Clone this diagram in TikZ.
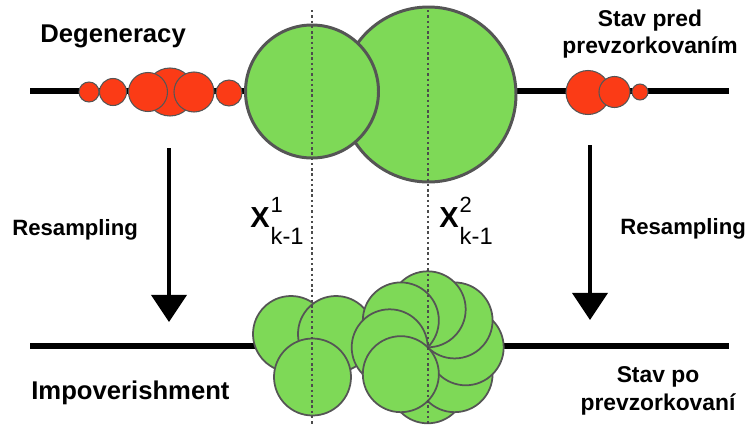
\documentclass[tikz,border=0pt]{standalone}
\usepackage{fontspec}
\setmainfont{Liberation Sans}
\usetikzlibrary{arrows.meta}

\definecolor{ballgreen}{HTML}{7ED957}
\definecolor{ballred}{HTML}{FB3B16}
\definecolor{rim}{HTML}{555555}

\tikzset{
	stateline/.style={line width=2.9pt},
	bigball/.style={fill=ballgreen,draw=rim,line width=1.7pt},
	ball/.style={fill=ballgreen,draw=rim,line width=1pt},
	redball/.style={fill=ballred,draw=rim,line width=0.6pt},
	guide/.style={draw=rim!90!black,line width=1.5pt,dash pattern=on 1.4pt off 1.6pt},
	resample/.style={-{Triangle[width=20pt,length=15.5pt]},line width=2.5pt},
	lbl/.style={inner sep=0pt,font=\bfseries\fontsize{#1}{#1}\selectfont},
	lbl/.default=14.6
}
\newcommand{\partlabel}[1]{X\kern0.6pt\normalfont
	\rlap{\raisebox{8pt}{\fontsize{12.5}{12.5}\selectfont #1}}%
	\raisebox{-10pt}{\fontsize{13.5}{13.5}\selectfont k-1}}

\begin{document}
\begin{tikzpicture}[x=0.02cm,y=-0.02cm]
	\useasboundingbox (0,0) rectangle (748,430);

	% the two state lines
	\draw[stateline] (30,91) -- (729,91);
	\draw[stateline] (30,346) -- (729,346);

	% weights before resampling
	\filldraw[redball] (89,92) circle (10);
	\filldraw[redball] (113,92) circle (13.5);
	\filldraw[redball] (229,93) circle (13);
	\filldraw[redball] (170,92) circle (24);
	\filldraw[redball] (148,92) circle (19.5);
	\filldraw[redball] (194,92) circle (20);

	\filldraw[bigball] (428.5,94.5) circle (87.5);
	\filldraw[bigball] (312,91.5) circle (66.5);

	\filldraw[redball] (588,92.5) circle (22);
	\filldraw[redball] (614.5,92) circle (15.5);
	\filldraw[redball] (640,92) circle (8);

	% copies after resampling
	\filldraw[ball] (291,334) circle (38);
	\filldraw[ball] (336,334) circle (38);
	\filldraw[ball] (312.5,377) circle (38.5);
	\foreach \a in {90,45,...,-225}
		\filldraw[ball] ([shift={(427.7,347.3)}]\a:38) circle (38);

	% particle positions
	\draw[guide] (312,10) -- (312,426);
	\draw[guide] (428,10) -- (428,426);

	\coordinate (lt) at (169,148);
	\coordinate (lb) at (169,322);
	\coordinate (rt) at (590,145);
	\coordinate (rb) at (590,320);
	\draw[resample] (lt) -- (lb);
	\draw[resample] (rt) -- (rb);

	\node[lbl,anchor=base west] (degen) at (40,42) {Degeneracy};
	\node[lbl,anchor=base west] (impov) at (31,399) {Impoverishment};
	\node[lbl=12.6,anchor=base west] (resl) at (12,235) {Resampling};
	\node[lbl=12.6,anchor=base west] (resr) at (620,234) {Resampling};
	\node[inner sep=0pt,align=center,anchor=base,font=\bfseries\fontsize{13}{15.3}\selectfont] (pred) at (650,53) {Stav pred\\prevzorkovaním};
	\node[inner sep=0pt,align=center,anchor=base,font=\bfseries\fontsize{13}{15.9}\selectfont] (po) at (658,410) {Stav po\\prevzorkovaní};

	\node[lbl=16.5,anchor=base west] (x1) at (250,227) {\partlabel{1}};
	\node[lbl=16.5,anchor=base west] (x2) at (439,227) {\partlabel{2}};
\end{tikzpicture}
\end{document}
